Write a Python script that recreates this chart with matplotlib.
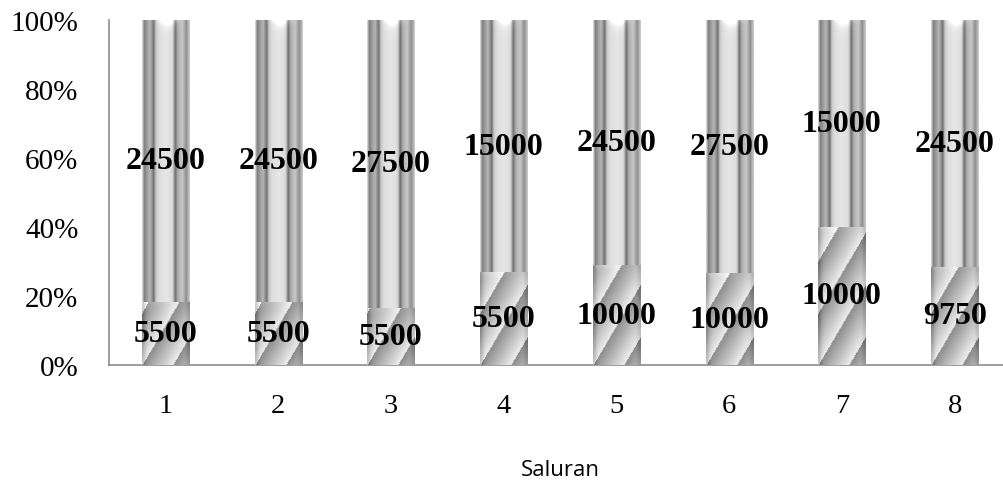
import matplotlib
matplotlib.use("Agg")
import matplotlib.pyplot as plt
import numpy as np

# data
saluran = [1, 2, 3, 4, 5, 6, 7, 8]
bawah = [5500, 5500, 5500, 5500, 10000, 10000, 10000, 9750]
atas = [24500, 24500, 27500, 15000, 24500, 27500, 15000, 24500]
y_ticks = [0, 0.2, 0.4, 0.6, 0.8, 1.0]
y_labels = ["0%", "20%", "40%", "60%", "80%", "100%"]

SERIF = ["Liberation Serif", "DejaVu Serif"]

bawah_arr = np.array(bawah, dtype=float)
atas_arr = np.array(atas, dtype=float)
total = bawah_arr + atas_arr
frac_bawah = bawah_arr / total
frac_atas = atas_arr / total

fig = plt.figure(figsize=(10.04, 4.85), dpi=100)
ax = fig.add_axes([109 / 1004, 119 / 485, 902 / 1004, 345 / 485])

width = 0.417
bars_b = ax.bar(saluran, frac_bawah, width=width, color="#cfcfcf", linewidth=0)
bars_a = ax.bar(saluran, frac_atas, width=width, bottom=frac_bawah,
                color="#cfcfcf", linewidth=0)

ax.set_xlim(0.5, 8.5)
ax.set_ylim(0, 1)


def px_size(patch):
    x0, y0 = patch.get_x(), patch.get_y()
    p0 = ax.transData.transform((x0, y0))
    p1 = ax.transData.transform((x0 + patch.get_width(), y0 + patch.get_height()))
    return max(int(abs(p1[0] - p0[0])), 2), max(int(abs(p1[1] - p0[1])), 2)


# metallic column profile for the upper segment
prof_x = [0.0, 0.04, 0.09, 0.16, 0.24, 0.29, 0.36, 0.5, 0.64, 0.7, 0.75, 0.85, 0.93, 1.0]
prof_v = [0.82, 0.5, 0.6, 0.72, 0.45, 0.8, 0.87, 0.9, 0.86, 0.42, 0.68, 0.78, 0.56, 0.78]


def upper_image(patch):
    w, h = px_size(patch)
    u = np.linspace(0, 1, w)
    row = np.interp(u, prof_x, prof_v)
    img = np.tile(row, (h, 1))
    # light cap at the top of the column
    v = np.arange(h)[:, None]
    cap = np.exp(-v / 4.0) * np.exp(-((u - 0.55) / 0.18) ** 2)[None, :]
    return np.clip(img + 0.3 * cap, 0, 1)


def lower_image(patch):
    w, h = px_size(patch)
    c = np.arange(w)[None, :]
    r = np.arange(h)[:, None]
    vb = h - r
    s = (c - vb * 0.58) / 30.0
    t = s - np.floor(s)
    img = 0.55 + 0.38 * t
    u = np.linspace(0, 1, w)[None, :]
    edge = 0.14 * (np.exp(-(u / 0.07) ** 2) + np.exp(-((1 - u) / 0.07) ** 2))
    img = img - edge
    # bevel at the top edge
    img = img + 0.12 * np.exp(-r / 5.0) * (1 - u)
    return np.clip(np.broadcast_to(img, (h, w)), 0, 1)


for bars, maker in [(bars_b, lower_image), (bars_a, upper_image)]:
    for patch in bars:
        x0, y0 = patch.get_x(), patch.get_y()
        im = ax.imshow(maker(patch), cmap="gray", vmin=0, vmax=1,
                       extent=(x0, x0 + patch.get_width(), y0, y0 + patch.get_height()),
                       origin="upper", aspect="auto", interpolation="bilinear", zorder=3)
        im.set_clip_path(patch)

ax.set_xlim(0.5, 8.5)
ax.set_ylim(0, 1)

for x, fb, fa, vb, va in zip(saluran, frac_bawah, frac_atas, bawah, atas):
    ax.text(x, fb / 2, f"{vb}", ha="center", va="center", fontsize=23,
            fontweight="bold", family=SERIF, zorder=5)
    ax.text(x, fb + fa / 2, f"{va}", ha="center", va="center", fontsize=23,
            fontweight="bold", family=SERIF, zorder=5)

ax.set_xticks(saluran)
ax.set_xticklabels([str(s) for s in saluran], fontsize=20.5, family=SERIF)
ax.set_yticks(y_ticks)
ax.set_yticklabels(y_labels, fontsize=21, family=SERIF)
ax.tick_params(axis="y", length=0, pad=22)
ax.tick_params(axis="x", length=0, pad=20)
ax.set_xlabel("Saluran", fontsize=16, family=["Open Sans", "DejaVu Sans"], labelpad=30)

for side in ["top", "right"]:
    ax.spines[side].set_visible(False)
for side in ["left", "bottom"]:
    ax.spines[side].set_color("#8c8c8c")
    ax.spines[side].set_linewidth(1.2)

fig.savefig("out.png", dpi=100)
